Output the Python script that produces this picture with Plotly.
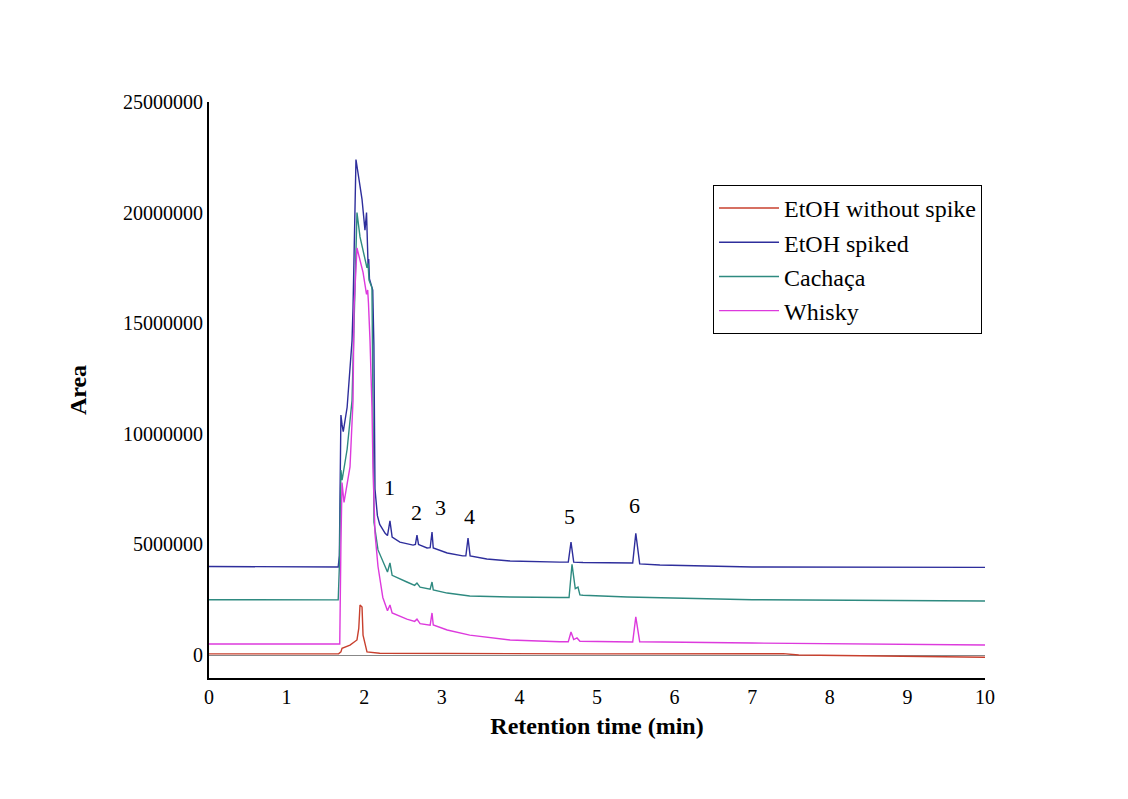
import plotly.graph_objects as go

# ---- data ----
series_names = ["EtOH without spike", "EtOH spiked", "Cachaça", "Whisky"]

red_t = [0, 1.67, 1.70, 1.714, 1.817, 1.907, 1.93, 1.946, 1.972, 1.985, 2.036, 2.2, 5.0, 7.4, 7.6, 10.0]
red_y = [0.05, 0.05, 0.14, 0.30, 0.45, 0.68, 1.2, 2.26, 2.17, 0.9, 0.14, 0.08, 0.05, 0.06, 0.0, -0.10]

blue_t = [0, 1.665, 1.68, 1.70, 1.715, 1.73, 1.78, 1.817, 1.843, 1.856, 1.894, 1.972, 2.010, 2.030,
          2.040, 2.050, 2.058, 2.068, 2.11, 2.125, 2.139, 2.17, 2.20, 2.27, 2.30, 2.332, 2.36, 2.46,
          2.63, 2.66, 2.68, 2.70, 2.72, 2.81, 2.85, 2.874, 2.89, 3.07, 3.27, 3.31, 3.338, 3.365,
          3.58, 3.88, 4.52, 4.63, 4.665, 4.70, 4.82, 5.39, 5.46, 5.50, 5.55, 5.81, 7.0, 10.0]
blue_y = [4.00, 3.98, 4.5, 10.85, 10.4, 10.1, 11.2, 12.75, 14.2, 15.7, 22.4, 20.6, 19.2, 20.0,
          18.6, 17.6, 17.9, 17.0, 16.5, 14.0, 7.5, 6.3, 5.9, 5.5, 5.4, 6.06, 5.33, 5.1,
          4.97, 5.0, 5.42, 5.0, 4.97, 4.84, 4.85, 5.56, 4.84, 4.61, 4.48, 4.48, 5.29, 4.48,
          4.34, 4.25, 4.20, 4.20, 5.10, 4.20, 4.18, 4.16, 4.16, 5.50, 4.12, 4.07, 3.98, 3.96]

teal_t = [0, 1.665, 1.68, 1.70, 1.715, 1.78, 1.843, 1.856, 1.87, 1.907, 1.946, 2.036, 2.05,
          2.062, 2.10, 2.113, 2.126, 2.178, 2.30, 2.332, 2.36, 2.55, 2.65, 2.68, 2.72, 2.85,
          2.874, 2.89, 3.07, 3.36, 3.88, 4.52, 4.64, 4.678, 4.72, 4.755, 4.78, 4.82, 5.39, 7.0, 10.0]
teal_y = [2.50, 2.49, 4.0, 8.36, 7.9, 9.3, 11.5, 13.5, 15.7, 20.0, 18.9, 17.5, 17.7,
          16.95, 16.6, 11.5, 6.0, 4.75, 3.75, 4.16, 3.6, 3.3, 3.15, 3.25, 3.07, 2.98,
          3.3, 2.94, 2.8, 2.67, 2.62, 2.60, 2.60, 4.10, 3.0, 3.07, 2.72, 2.70, 2.62, 2.50, 2.44]

mag_t = [0, 1.685, 1.70, 1.714, 1.74, 1.817, 1.856, 1.869, 1.907, 1.985, 2.03, 2.045, 2.055,
         2.075, 2.10, 2.113, 2.139, 2.178, 2.24, 2.30, 2.332, 2.36, 2.55, 2.65, 2.68, 2.72,
         2.85, 2.874, 2.89, 3.07, 3.36, 3.88, 4.52, 4.63, 4.665, 4.70, 4.742, 4.78, 5.46,
         5.50, 5.55, 7.0, 10.0]
mag_y = [0.50, 0.50, 5.0, 7.8, 6.9, 8.5, 11.5, 15.7, 18.4, 17.3, 16.3, 16.5, 15.9,
         14.2, 11.2, 8.5, 5.5, 4.0, 2.6, 2.0, 2.26, 1.9, 1.62, 1.52, 1.62, 1.42,
         1.35, 1.9, 1.36, 1.13, 0.90, 0.68, 0.60, 0.60, 1.04, 0.70, 0.77, 0.62, 0.59,
         1.72, 0.60, 0.54, 0.45]

peak_labels = ["1", "2", "3", "4", "5", "6"]
peak_label_t = [2.33, 2.67, 2.98, 3.36, 4.65, 5.48]
peak_label_y = [7.55, 6.46, 6.65, 6.24, 6.28, 6.74]

x_ticks = list(range(0, 11))
y_ticks = [0, 5000000, 10000000, 15000000, 20000000, 25000000]

SCALE = 1e6
colors = ["#C8402E", "#2E2E9C", "#2E8A80", "#DD3ADD"]
data = [(red_t, red_y), (blue_t, blue_y), (teal_t, teal_y), (mag_t, mag_y)]

fig = go.Figure()
for name, col, (t, y) in zip(series_names, colors, data):
    fig.add_trace(go.Scatter(x=t, y=[v * SCALE for v in y], mode="lines", name=name,
                             line=dict(color=col, width=1.4)))

for lab, t, y in zip(peak_labels, peak_label_t, peak_label_y):
    fig.add_annotation(x=t, y=y * SCALE, text=lab, showarrow=False,
                       font=dict(family="Liberation Serif", size=22, color="black"))

font_family = "Liberation Serif"
fig.update_layout(
    width=1128, height=799,
    margin=dict(l=209, r=143, t=102, b=121),
    paper_bgcolor="white", plot_bgcolor="white",
    font=dict(family=font_family, color="black"),
    showlegend=True,
    legend=dict(x=0.6495, y=0.856, xanchor="left", yanchor="top",
                bordercolor="black", borderwidth=1, bgcolor="white",
                font=dict(family=font_family, size=24, color="black"),
                itemwidth=60, tracegroupgap=0),
    xaxis=dict(range=[0, 10], tickvals=x_ticks, ticktext=[str(v) for v in x_ticks],
               showgrid=False, zeroline=False, showline=True, linecolor="black", linewidth=2,
               ticks="", tickfont=dict(family=font_family, size=20),
               title=dict(text="<b>Retention time (min)</b>",
                          font=dict(family=font_family, size=24), standoff=10)),
    yaxis=dict(range=[-1.04e6, 25e6], tickvals=y_ticks, ticktext=[str(v) for v in y_ticks],
               showgrid=False, zeroline=True, zerolinecolor="#888888", zerolinewidth=1,
               showline=True, linecolor="black", linewidth=2,
               ticks="", tickfont=dict(family=font_family, size=20),
               title=dict(text="<b>Area</b>", font=dict(family=font_family, size=24), standoff=30)),
)

fig.write_html("out.html")
